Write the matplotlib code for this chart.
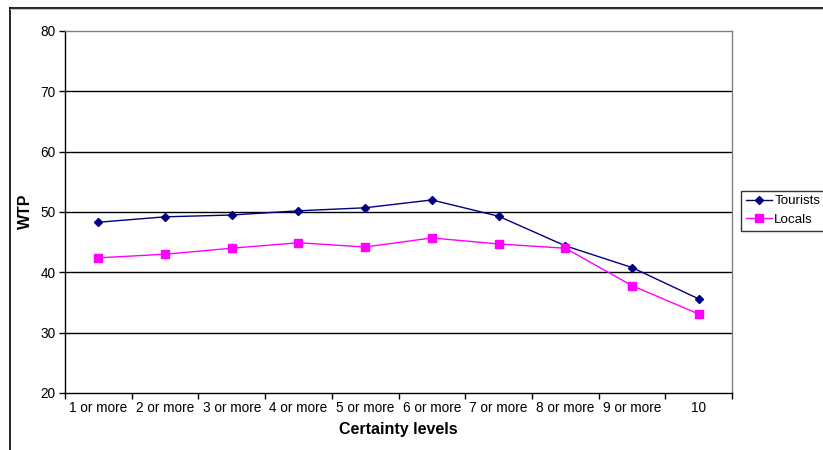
import matplotlib
matplotlib.use("Agg")
import matplotlib.pyplot as plt
from matplotlib.lines import Line2D
import numpy as np

categories = ["1 or more", "2 or more", "3 or more", "4 or more", "5 or more",
              "6 or more", "7 or more", "8 or more", "9 or more", "10"]
tourists = [48.3, 49.2, 49.5, 50.2, 50.7, 52.0, 49.3, 44.4, 40.8, 35.6]
locals_ = [42.4, 43.0, 44.0, 44.9, 44.2, 45.7, 44.7, 44.0, 37.8, 33.1]

plt.rcParams['font.family'] = ['Liberation Sans', 'DejaVu Sans']

W, H = 823, 450
fig = plt.figure(figsize=(W / 100, H / 100), dpi=100)
ax = fig.add_axes([65 / W, 1 - 393 / H, (732 - 65) / W, (393 - 31) / H])

x = np.arange(len(categories))
ax.plot(x, tourists, color='#000080', lw=1.0, marker='D', ms=4.5,
        mfc='#000080', mec='#000080', label='Tourists', zorder=3)
ax.plot(x, locals_, color='#FF00FF', lw=1.0, marker='s', ms=5.5,
        mfc='#FF00FF', mec='#FF00FF', label='Locals', zorder=3)

ax.set_xlim(-0.5, len(categories) - 0.5)
ax.set_ylim(20, 80)
ax.set_yticks(range(20, 81, 10))
ax.set_xticks(x)
ax.set_xticklabels(categories)
ax.set_xticks(np.arange(-0.5, len(categories), 1), minor=True)
ax.tick_params(axis='x', which='major', length=0, pad=6, labelsize=9.8)
ax.tick_params(axis='x', which='minor', length=4, width=1, direction='out')
ax.tick_params(axis='y', length=4, width=1, direction='out', labelsize=9.8, pad=3)

for v in range(30, 80, 10):
    ax.axhline(v, color='black', lw=1.0, zorder=1)

for s in ['left', 'bottom']:
    ax.spines[s].set_color('black')
    ax.spines[s].set_linewidth(1.0)
for s in ['top', 'right']:
    ax.spines[s].set_color('#808080')
    ax.spines[s].set_linewidth(1.0)

ax.set_ylabel('WTP', fontsize=11.5, fontweight='bold', va='center')
ax.yaxis.set_label_coords((25.5 - 65) / 667, (393 - 211.5) / 362)
ax.set_xlabel('Certainty levels', fontsize=11.5, fontweight='bold', labelpad=5)

leg = ax.legend(loc='upper left', bbox_to_anchor=(741 / W, 1 - 190.5 / H),
                bbox_transform=fig.transFigure, frameon=True, fancybox=False,
                fontsize=9.6, handlelength=2.0, borderpad=0.35, labelspacing=0.45,
                handletextpad=0.15, borderaxespad=0)
leg.get_frame().set_edgecolor('black')
leg.get_frame().set_linewidth(1.0)

# outer frame (cropped chart border)
fig.add_artist(Line2D([9.5 / W, 9.5 / W], [0, 1 - 7.5 / H], transform=fig.transFigure,
                      color='black', lw=1.2))
fig.add_artist(Line2D([9.5 / W, 1], [1 - 7.5 / H, 1 - 7.5 / H], transform=fig.transFigure,
                      color='black', lw=1.2))
fig.add_artist(Line2D([10 / W, 1], [1 - 9 / H, 1 - 9 / H], transform=fig.transFigure,
                      color='#c0c0c0', lw=0.8))

fig.savefig('out.png', dpi=100)
